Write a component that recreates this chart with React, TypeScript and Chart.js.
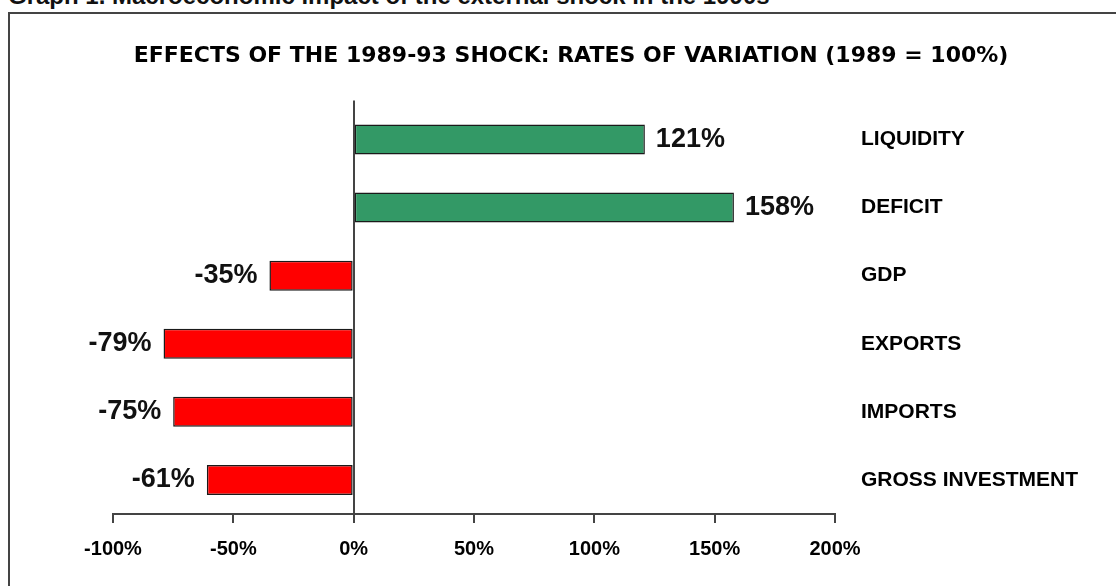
import React, { useEffect, useRef } from "react";
import { Chart, registerables } from "chart.js";

Chart.register(...registerables);

const caption = "Graph 1. Macroeconomic impact of the external shock in the 1990s";
const chartTitle = "EFFECTS OF THE 1989-93 SHOCK: RATES OF VARIATION (1989 = 100%)";
const categories = ["LIQUIDITY", "DEFICIT", "GDP", "EXPORTS", "IMPORTS", "GROSS INVESTMENT"];
const values = [121, 158, -35, -79, -75, -61];
const axisMin = -100;
const axisMax = 200;
const axisStep = 50;

const GREEN = "#339966";
const RED = "#ff0000";
const SANS = "'Liberation Sans', Arial, sans-serif";

const valueLabelPlugin = {
  id: "valueLabels",
  afterDatasetsDraw(chart: any) {
    const { ctx } = chart;
    const meta = chart.getDatasetMeta(0);
    ctx.save();
    ctx.font = `bold 27px ${SANS}`;
    ctx.fillStyle = "#111";
    ctx.textBaseline = "middle";
    meta.data.forEach((bar: any, i: number) => {
      const v = values[i];
      const txt = `${v}%`;
      if (v >= 0) {
        ctx.textAlign = "left";
        ctx.fillText(txt, bar.x + 11, bar.y);
      } else {
        ctx.textAlign = "right";
        ctx.fillText(txt, bar.x - 12, bar.y);
      }
    });
    ctx.restore();
  },
};

const zeroLinePlugin = {
  id: "zeroLine",
  afterDatasetsDraw(chart: any) {
    const { ctx, chartArea, scales } = chart;
    const x0 = Math.round(scales.x.getPixelForValue(0));
    ctx.save();
    ctx.strokeStyle = "#444";
    ctx.lineWidth = 2;
    ctx.beginPath();
    ctx.moveTo(x0, chartArea.top - 5);
    ctx.lineTo(x0, chartArea.bottom);
    ctx.stroke();
    ctx.restore();
  },
};

export default function App() {
  const canvasRef = useRef<HTMLCanvasElement | null>(null);

  useEffect(() => {
    if (!canvasRef.current) return;
    const chart = new Chart(canvasRef.current, {
      type: "bar",
      data: {
        labels: categories,
        datasets: [
          {
            data: values,
            backgroundColor: values.map((v) => (v >= 0 ? GREEN : RED)),
            borderColor: "#1a1a1a",
            borderWidth: 1.5,
            borderSkipped: false,
            barPercentage: 0.44,
            categoryPercentage: 1,
          },
        ],
      },
      options: {
        indexAxis: "y",
        responsive: false,
        animation: false,
        devicePixelRatio: 1,
        layout: { padding: { left: 26, right: 0, top: 0, bottom: 11 } },
        plugins: {
          legend: { display: false },
          tooltip: { enabled: false },
          title: {
            display: true,
            text: chartTitle,
            color: "#000",
            font: { family: "'DejaVu Sans', sans-serif", size: 22, weight: "bold", lineHeight: 1.2 },
            padding: { top: 43, bottom: 36 },
          },
        },
        scales: {
          x: {
            type: "linear",
            position: "bottom",
            min: axisMin,
            max: axisMax,
            ticks: {
              stepSize: axisStep,
              color: "#000",
              padding: 14,
              font: { family: SANS, size: 20, weight: "bold" },
              callback: (v: any) => `${v}%`,
            },
            grid: {
              display: true,
              drawOnChartArea: false,
              drawTicks: true,
              tickLength: 9,
              color: "#444",
              lineWidth: 2,
            },
            border: { display: true, color: "#444", width: 2 },
          },
          yl: {
            type: "category",
            position: "left",
            display: true,
            ticks: { display: false },
            grid: { display: false, drawTicks: false },
            border: { display: false },
            afterFit: (scale: any) => {
              scale.width = 87;
            },
          },
          y: {
            position: "right",
            ticks: {
              color: "#000",
              padding: 26,
              font: { family: SANS, size: 21, weight: "bold" },
            },
            grid: { display: false, drawTicks: false },
            border: { display: false },
            afterFit: (scale: any) => {
              scale.width = 1116 - 835;
            },
          },
        },
      },
      plugins: [zeroLinePlugin, valueLabelPlugin],
    } as any);
    return () => chart.destroy();
  }, []);

  return (
    <div
      style={{
        position: "fixed",
        left: 0,
        top: 0,
        width: 1116,
        height: 586,
        background: "#fff",
        overflow: "hidden",
      }}
    >
      <div
        style={{
          position: "absolute",
          left: 8,
          top: -18,
          fontFamily: SANS,
          fontWeight: "bold",
          fontSize: 24,
          color: "#111",
          whiteSpace: "nowrap",
        }}
      >
        {caption}
      </div>
      <div
        style={{
          position: "absolute",
          left: 8,
          top: 12,
          width: 1200,
          height: 700,
          border: "2px solid #444",
          boxSizing: "border-box",
        }}
      />
      <canvas
        ref={canvasRef}
        width={1116}
        height={586}
        style={{ position: "absolute", left: 0, top: 0, width: 1116, height: 586 }}
      />
    </div>
  );
}
